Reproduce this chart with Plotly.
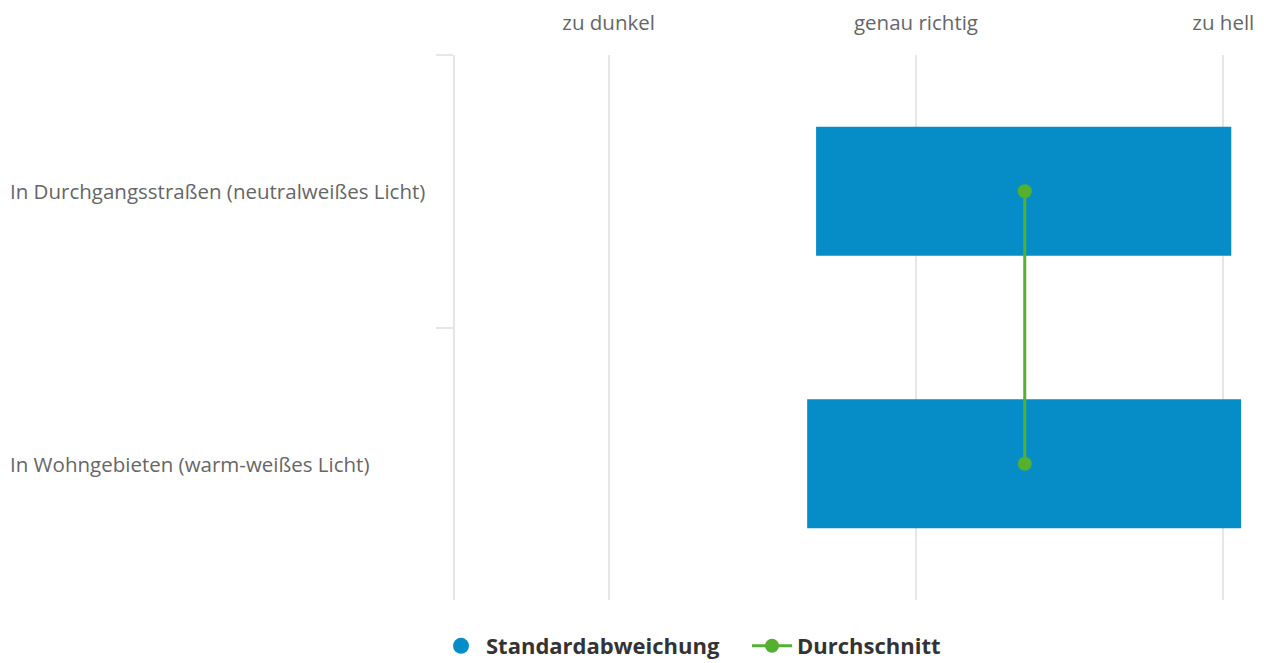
import plotly.graph_objects as go

# Kategorien (Zeilen) und Werte
categories = ["In Durchgangsstraßen (neutralweißes Licht)", "In Wohngebieten (warm-weißes Licht)"]
low = [-0.325, -0.354]
high = [1.026, 1.058]
mean = [0.354, 0.354]

scale_vals = [-1, 0, 1]
scale_text = ["zu dunkel", "genau richtig", "zu hell"]

BLUE = "#068cc7"
GREEN = "#55b02f"
GRID = "#e6e6e6"
FONT = "Open Sans"

# page body has an 8px default margin, so the figure is 8px smaller
W, H = 1256, 655

fig = go.Figure()

fig.add_trace(go.Bar(
    y=categories, x=[h - l for h, l in zip(high, low)], base=low,
    orientation="h", width=0.473, marker=dict(color=BLUE, line=dict(width=0)),
    showlegend=False, name="Standardabweichung"
))
# legend entry with circle symbol
fig.add_trace(go.Scatter(
    x=[None], y=[None], mode="markers", name="Standardabweichung",
    marker=dict(color=BLUE, size=21, symbol="circle")
))
fig.add_trace(go.Scatter(
    y=categories, x=mean, mode="lines+markers", name="Durchschnitt",
    line=dict(color=GREEN, width=3), marker=dict(color=GREEN, size=14)
))

for c in categories:
    fig.add_annotation(
        x=(0 - 447) / 799, xref="paper", y=c, yref="y", text=c,
        xanchor="left", showarrow=False,
        font=dict(family=FONT, size=20.5, color="#666666")
    )

fig.update_xaxes(
    side="top", range=[-1.5, 1.1], tickvals=scale_vals, ticktext=scale_text,
    showgrid=True, gridcolor=GRID, gridwidth=2, zeroline=False, showline=False,
    ticks="", ticklabelstandoff=20,
    tickfont=dict(family=FONT, size=20.5, color="#666666")
)
fig.update_yaxes(
    range=[1.5, -0.5], showticklabels=False, showgrid=False, zeroline=False,
    showline=True, linecolor=GRID, linewidth=2,
    ticks="outside", tickson="boundaries", ticklen=17, tickcolor=GRID, tickwidth=2
)

fig.update_layout(
    width=W, height=H,
    margin=dict(l=447, r=10, t=47, b=63, autoexpand=False),
    plot_bgcolor="white", paper_bgcolor="white",
    font=dict(family=FONT),
    showlegend=True,
    legend=dict(
        orientation="h", xref="container", x=428 / W, xanchor="left",
        yref="container", y=1 - 638 / H, yanchor="middle",
        font=dict(family=FONT, size=22, color="#333333", weight="bold"),
        itemwidth=40, entrywidth=256, entrywidthmode="pixels"
    )
)

fig.write_html("out.html")
